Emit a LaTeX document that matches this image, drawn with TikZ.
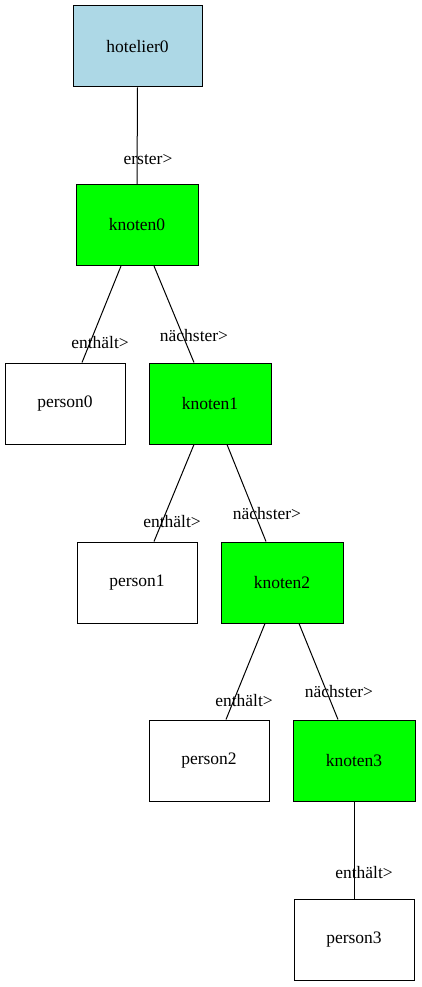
\documentclass[tikz,border=0pt]{standalone}
\usepackage{fontspec}
\setmainfont{Liberation Serif}
\begin{document}
\begin{tikzpicture}[x=1pt,y=-1pt,
  box/.style={draw=black,line width=1pt,rectangle,minimum width=#1,minimum height=81pt,inner sep=0pt,font=\fontsize{17.5}{19}\selectfont},
  lbl/.style={font=\fontsize{17.5}{19}\selectfont,inner sep=0pt},
  edge/.style={draw=black,line width=1pt}]
\useasboundingbox (0,0) rectangle (421,987);
\definecolor{lblue}{HTML}{ADD8E6}
\definecolor{vgreen}{HTML}{00FF00}
\node[box=129pt,fill=lblue] (h0) at (137.5,46.5) {hotelier0};
\node[box=122pt,fill=vgreen] (k0) at (137,225) {knoten0};
\node[box=120pt] (p0) at (65,403.5) {person0};
\node[box=122pt,fill=vgreen] (k1) at (210,403.5) {knoten1};
\node[box=120pt] (p1) at (137,582.5) {person1};
\node[box=122pt,fill=vgreen] (k2) at (282,582.5) {knoten2};
\node[box=120pt] (p2) at (209,760.5) {person2};
\node[box=122pt,fill=vgreen] (k3) at (354,760.5) {knoten3};
\node[box=120pt] (p3) at (354,939.5) {person3};
\draw[edge] (h0.south) -- (k0.south |- k0.north);
\draw[edge] ([xshift=-16pt]k0.south) -- ([xshift=17pt]p0.north);
\draw[edge] ([xshift=17pt]k0.south) -- ([xshift=-16pt]k1.north);
\draw[edge] ([xshift=-16pt]k1.south) -- ([xshift=17pt]p1.north);
\draw[edge] ([xshift=17pt]k1.south) -- ([xshift=-16pt]k2.north);
\draw[edge] ([xshift=-17pt]k2.south) -- ([xshift=17pt]p2.north);
\draw[edge] ([xshift=17pt]k2.south) -- ([xshift=-16pt]k3.north);
\draw[edge] (k3.south) -- (p3.north);
\node[lbl] (l0) at (148,160) {erster>};
\node[lbl] (l1) at (100,343) {enthält>};
\node[lbl] (l2) at (194,336) {nächster>};
\node[lbl] (l3) at (172,522) {enthält>};
\node[lbl] (l4) at (267,514) {nächster>};
\node[lbl] (l5) at (244,701) {enthält>};
\node[lbl] (l6) at (339,692) {nächster>};
\node[lbl] (l7) at (364,873) {enthält>};
\end{tikzpicture}
\end{document}
